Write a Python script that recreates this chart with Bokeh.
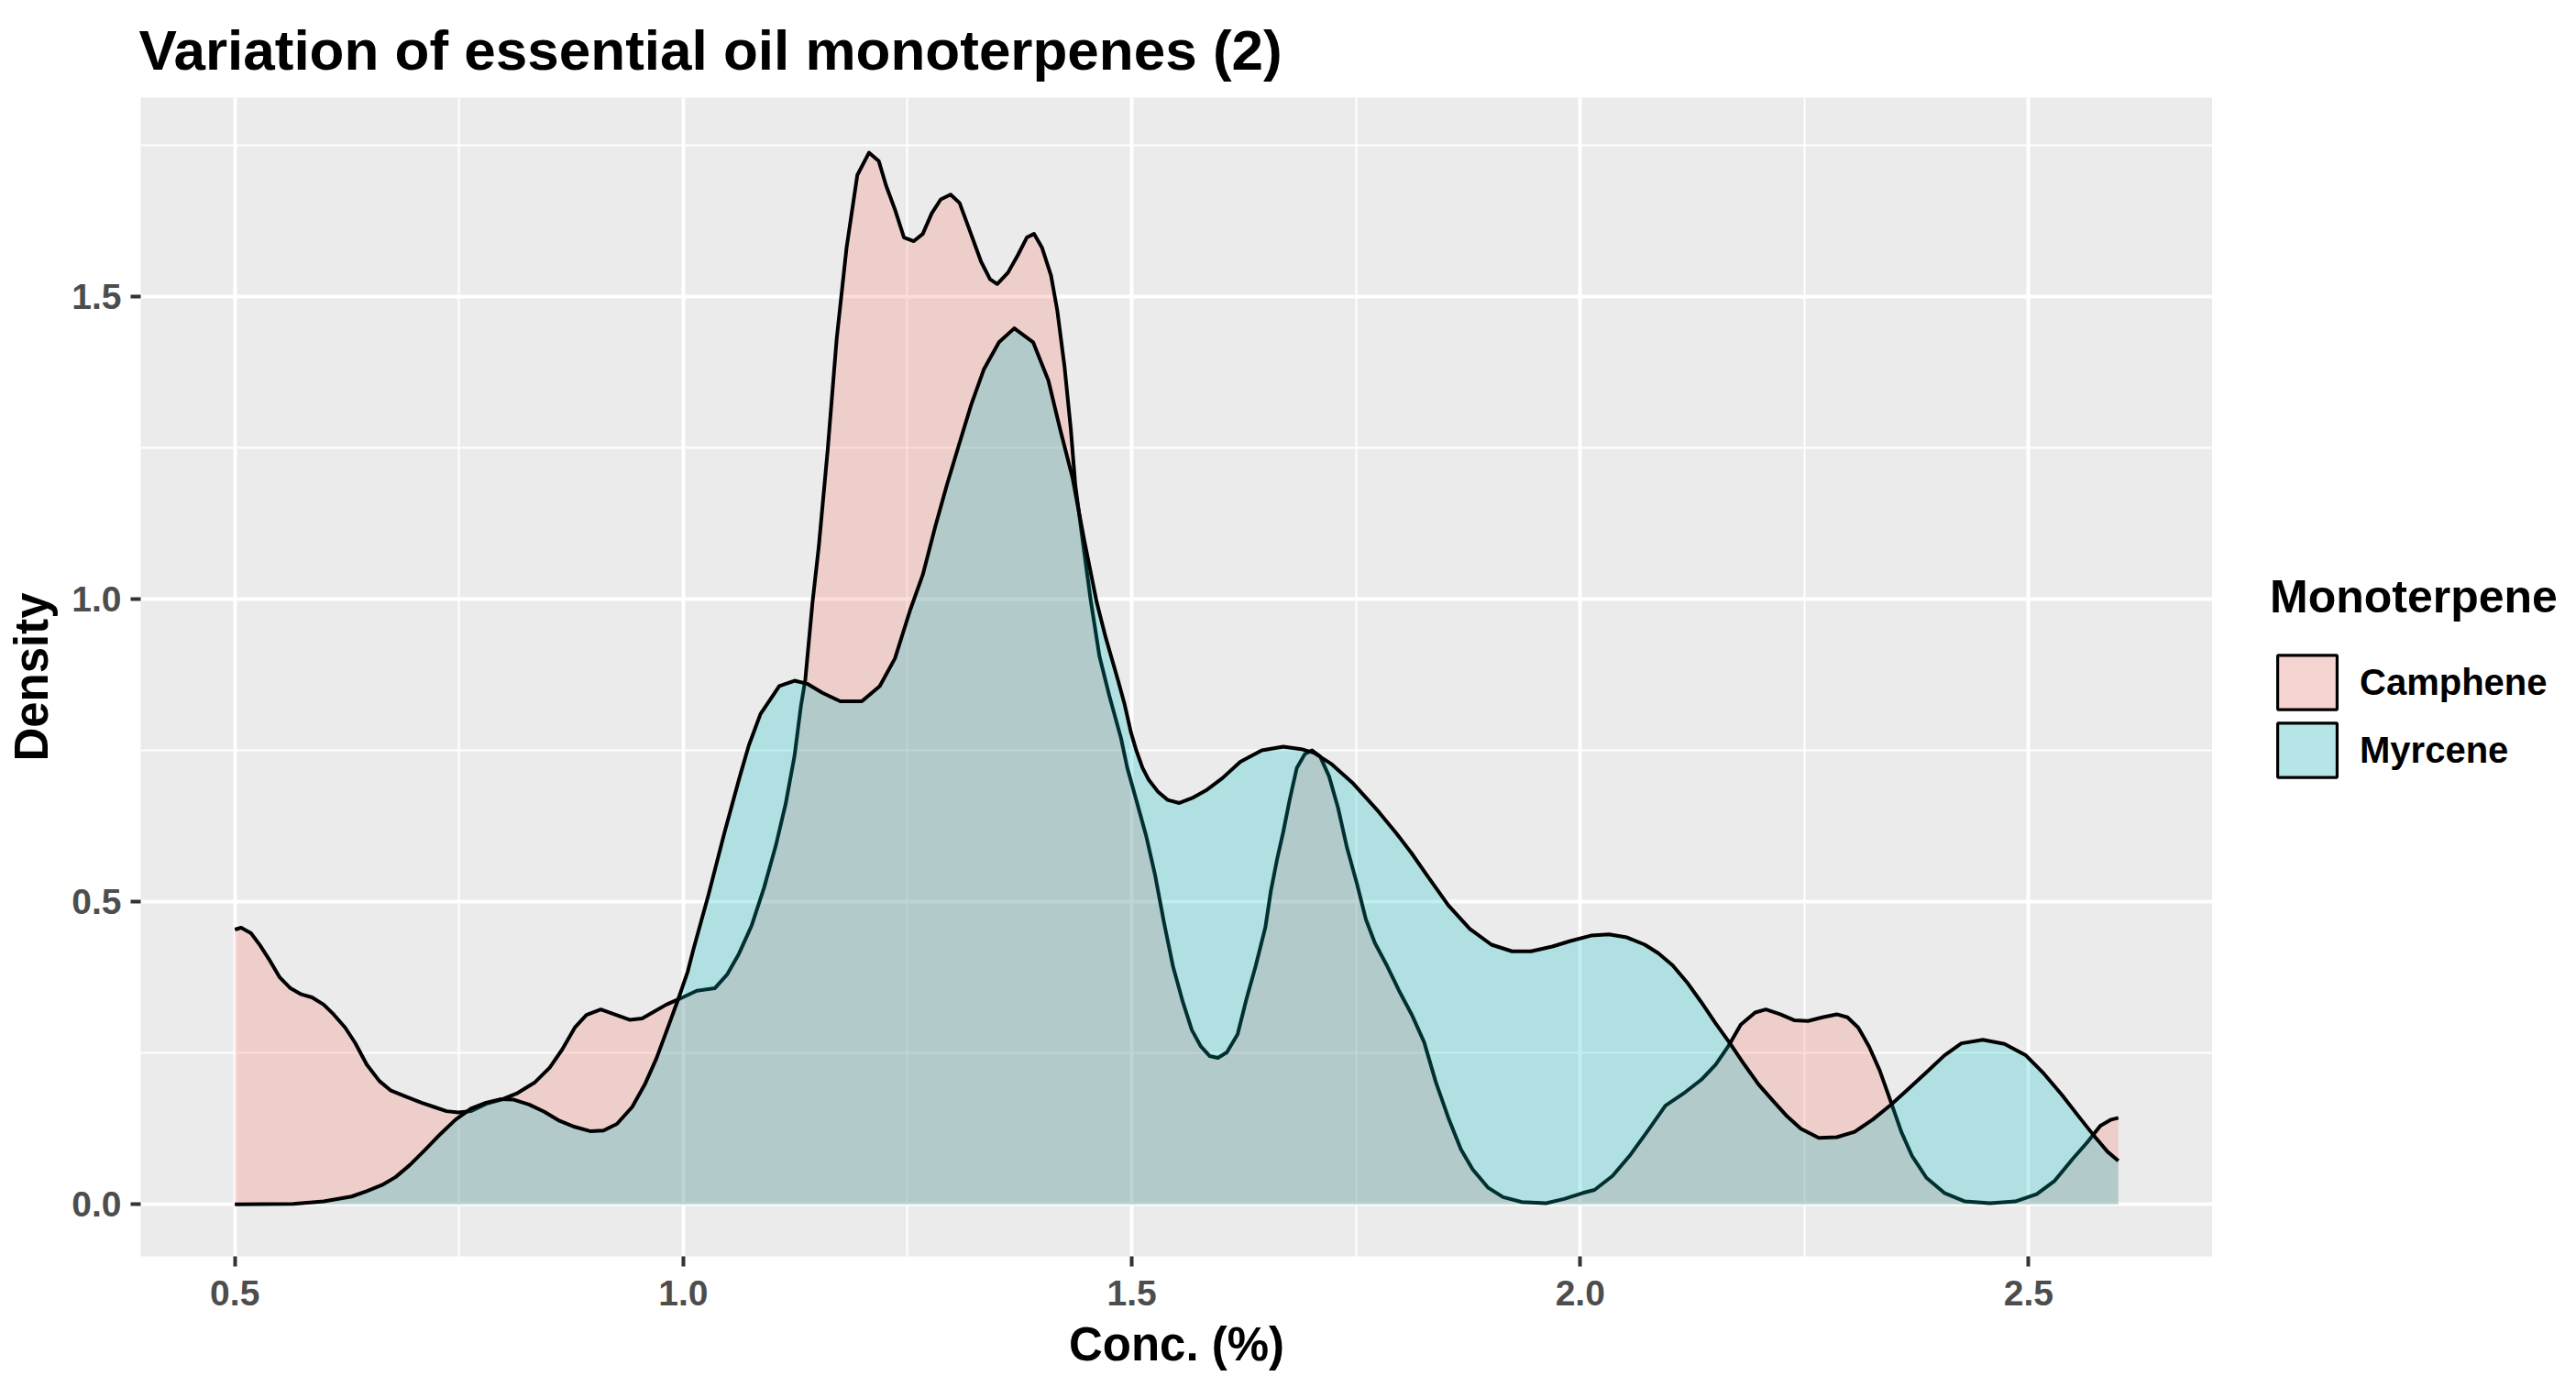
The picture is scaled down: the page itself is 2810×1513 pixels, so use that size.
from bokeh.plotting import figure
from bokeh.layouts import row
from bokeh.models import Range1d, FixedTicker, NumeralTickFormatter, Legend, LegendItem
from bokeh.embed import file_html
from bokeh.resources import INLINE

title_text = "Variation of essential oil monoterpenes (2)"
x_label = "Conc. (%)"
y_label = "Density"
legend_title = "Monoterpene"
series_names = ["Camphene", "Myrcene"]

x_ticks = [0.5, 1.0, 1.5, 2.0, 2.5]
x_minor = [0.75, 1.25, 1.75, 2.25]
y_ticks = [0.0, 0.5, 1.0, 1.5]
y_minor = [0.25, 0.75, 1.25, 1.75]

camphene_x = [
    0.500, 0.507, 0.518, 0.528, 0.538, 0.550, 0.562, 0.574, 0.586, 0.599,
    0.610, 0.623, 0.634, 0.647, 0.661, 0.674, 0.691, 0.708, 0.722, 0.736,
    0.749, 0.763, 0.780, 0.797, 0.814, 0.834, 0.851, 0.865, 0.879, 0.892,
    0.908, 0.923, 0.940, 0.954, 0.967, 0.981, 0.995, 1.015, 1.035, 1.049,
    1.062, 1.076, 1.090, 1.103, 1.114, 1.124, 1.131, 1.136, 1.144, 1.151,
    1.161, 1.171, 1.182, 1.194, 1.207, 1.218, 1.226, 1.236, 1.246, 1.257,
    1.267, 1.277, 1.287, 1.298, 1.308, 1.318, 1.332, 1.342, 1.350, 1.362,
    1.373, 1.383, 1.391, 1.400, 1.410, 1.417, 1.425, 1.432, 1.437, 1.444,
    1.454, 1.464, 1.475, 1.488, 1.495, 1.505, 1.516, 1.526, 1.536, 1.546,
    1.557, 1.567, 1.577, 1.587, 1.596, 1.606, 1.618, 1.628, 1.638, 1.649,
    1.655, 1.662, 1.669, 1.676, 1.684, 1.693, 1.701, 1.710, 1.720, 1.730,
    1.740, 1.751, 1.761, 1.771, 1.785, 1.798, 1.812, 1.826, 1.839, 1.853,
    1.867, 1.880, 1.897, 1.914, 1.935, 1.962, 1.982, 2.003, 2.016, 2.036,
    2.056, 2.076, 2.095, 2.115, 2.135, 2.151, 2.165, 2.179, 2.195, 2.207,
    2.223, 2.239, 2.254, 2.270, 2.286, 2.298, 2.310, 2.322, 2.334, 2.346,
    2.358, 2.370, 2.386, 2.406, 2.429, 2.457, 2.485, 2.509, 2.529, 2.549,
    2.565, 2.580, 2.592, 2.600,
]
camphene_density = [
    0.454, 0.457, 0.448, 0.428, 0.405, 0.375, 0.357, 0.347, 0.342, 0.330,
    0.314, 0.292, 0.267, 0.231, 0.204, 0.188, 0.178, 0.168, 0.161, 0.154,
    0.152, 0.154, 0.166, 0.173, 0.183, 0.201, 0.226, 0.256, 0.292, 0.313,
    0.322, 0.314, 0.305, 0.307, 0.318, 0.330, 0.339, 0.353, 0.357, 0.380,
    0.414, 0.460, 0.523, 0.592, 0.661, 0.741, 0.822, 0.867, 0.994, 1.086,
    1.247, 1.430, 1.580, 1.700, 1.737, 1.723, 1.683, 1.643, 1.597, 1.591,
    1.603, 1.637, 1.660, 1.668, 1.654, 1.614, 1.557, 1.528, 1.520, 1.539,
    1.568, 1.597, 1.603, 1.580, 1.534, 1.476, 1.384, 1.281, 1.189, 1.110,
    1.000, 0.905, 0.840, 0.770, 0.721, 0.668, 0.609, 0.544, 0.465, 0.393,
    0.334, 0.288, 0.261, 0.245, 0.242, 0.251, 0.281, 0.340, 0.393, 0.458,
    0.517, 0.570, 0.616, 0.668, 0.721, 0.744, 0.750, 0.740, 0.707, 0.655,
    0.589, 0.530, 0.471, 0.432, 0.393, 0.353, 0.314, 0.268, 0.202, 0.143,
    0.091, 0.058, 0.028, 0.012, 0.004, 0.002, 0.009, 0.019, 0.024, 0.047,
    0.082, 0.123, 0.163, 0.183, 0.206, 0.231, 0.261, 0.297, 0.317, 0.322,
    0.314, 0.304, 0.303, 0.309, 0.314, 0.309, 0.292, 0.261, 0.221, 0.171,
    0.120, 0.080, 0.044, 0.019, 0.005, 0.002, 0.005, 0.017, 0.039, 0.075,
    0.102, 0.130, 0.140, 0.143,
]

myrcene_x = [
    0.500, 0.565, 0.599, 0.630, 0.647, 0.664, 0.679, 0.695, 0.712, 0.729,
    0.746, 0.763, 0.780, 0.797, 0.811, 0.828, 0.845, 0.862, 0.879, 0.896,
    0.911, 0.926, 0.943, 0.957, 0.970, 0.984, 0.995, 1.005, 1.011, 1.028,
    1.046, 1.063, 1.073, 1.086, 1.107, 1.124, 1.138, 1.155, 1.175, 1.199,
    1.219, 1.236, 1.253, 1.267, 1.281, 1.294, 1.308, 1.321, 1.335, 1.352,
    1.369, 1.390, 1.407, 1.420, 1.434, 1.447, 1.461, 1.471, 1.485, 1.492,
    1.499, 1.505, 1.512, 1.519, 1.529, 1.540, 1.553, 1.567, 1.584, 1.601,
    1.621, 1.645, 1.669, 1.689, 1.703, 1.723, 1.747, 1.775, 1.795, 1.812,
    1.829, 1.853, 1.877, 1.901, 1.924, 1.945, 1.969, 1.989, 2.012, 2.032,
    2.052, 2.072, 2.087, 2.103, 2.119, 2.135, 2.151, 2.167, 2.183, 2.199,
    2.215, 2.231, 2.246, 2.266, 2.286, 2.306, 2.326, 2.346, 2.366, 2.386,
    2.406, 2.425, 2.449, 2.473, 2.497, 2.517, 2.537, 2.557, 2.572, 2.588,
    2.600,
]
myrcene_density = [
    0.000, 0.001, 0.005, 0.013, 0.022, 0.032, 0.045, 0.065, 0.090, 0.116,
    0.140, 0.158, 0.168, 0.174, 0.173, 0.165, 0.153, 0.138, 0.128, 0.121,
    0.122, 0.133, 0.161, 0.198, 0.241, 0.297, 0.342, 0.385, 0.420, 0.511,
    0.615, 0.707, 0.758, 0.810, 0.856, 0.865, 0.860, 0.845, 0.831, 0.831,
    0.856, 0.902, 0.982, 1.040, 1.120, 1.189, 1.258, 1.321, 1.379, 1.424,
    1.447, 1.424, 1.361, 1.281, 1.200, 1.097, 0.994, 0.936, 0.864, 0.826,
    0.780, 0.750, 0.721, 0.701, 0.682, 0.668, 0.663, 0.671, 0.685, 0.704,
    0.731, 0.750, 0.756, 0.752, 0.746, 0.727, 0.695, 0.649, 0.613, 0.580,
    0.544, 0.494, 0.455, 0.429, 0.418, 0.418, 0.426, 0.435, 0.444, 0.446,
    0.441, 0.429, 0.415, 0.395, 0.367, 0.334, 0.299, 0.266, 0.231, 0.198,
    0.171, 0.145, 0.125, 0.110, 0.111, 0.120, 0.140, 0.164, 0.191, 0.218,
    0.246, 0.266, 0.272, 0.265, 0.246, 0.216, 0.181, 0.143, 0.115, 0.087,
    0.072,
]

assert len(camphene_x) == len(camphene_density)
assert len(myrcene_x) == len(myrcene_density)

FONT = "Liberation Sans"
GRID_MAJOR = 4
fill_colors = ["#F8766D", "#00BFC4"]
key_colors = ["#F4D3D1", "#B6E5E7"]

# ---------------- main plot ----------------
p = figure(
    width=2413, height=1513,
    output_backend="svg", toolbar_location=None,
    x_range=Range1d(0.395, 2.705), y_range=Range1d(-0.0858, 1.828),
    min_border_left=153, min_border_right=0,
    min_border_top=105, min_border_bottom=143,
)

p.background_fill_color = "#EBEBEB"
p.border_fill_color = "white"
p.outline_line_color = None

p.title.text = title_text
p.title.text_font = FONT
p.title.text_font_size = "62px"
p.title.text_font_style = "bold"
p.title.text_color = "black"
p.title.align = "left"
p.title.standoff = 35
p.title.offset = -2

for g in (p.xgrid, p.ygrid):
    g.grid_line_color = "white"
    g.grid_line_width = GRID_MAJOR
    g.minor_grid_line_color = "white"
    g.minor_grid_line_width = GRID_MAJOR / 2

p.xaxis.ticker = FixedTicker(ticks=x_ticks, minor_ticks=x_minor)
p.yaxis.ticker = FixedTicker(ticks=y_ticks, minor_ticks=y_minor)
p.xaxis.formatter = NumeralTickFormatter(format="0.0")
p.yaxis.formatter = NumeralTickFormatter(format="0.0")

for ax in (p.xaxis, p.yaxis):
    ax.axis_line_color = None
    ax.minor_tick_line_color = None
    ax.major_tick_in = 0
    ax.major_tick_out = 11
    ax.major_tick_line_color = "#333333"
    ax.major_tick_line_width = GRID_MAJOR
    ax.major_label_text_font = FONT
    ax.major_label_text_font_size = "39px"
    ax.major_label_text_font_style = "bold"
    ax.major_label_text_color = "#4D4D4D"
    ax.axis_label_text_font = FONT
    ax.axis_label_text_font_size = "51px"
    ax.axis_label_text_font_style = "bold"
    ax.axis_label_text_color = "black"

p.xaxis.axis_label = x_label
p.yaxis.axis_label = y_label
p.xaxis.major_label_standoff = 15
p.yaxis.major_label_standoff = 10
p.xaxis.axis_label_standoff = 11
p.yaxis.axis_label_standoff = 12

series = [(camphene_x, camphene_density), (myrcene_x, myrcene_density)]
for (xs, ys), fc in zip(series, fill_colors):
    p.varea(x=xs, y1=[0.0] * len(xs), y2=ys, fill_color=fc, fill_alpha=0.25)
    p.line(x=xs, y=ys, line_color="black", line_width=4, line_join="round")

# ---------------- legend panel (frame aligned with main frame) ----------------
lg = figure(
    width=397, height=1513,
    output_backend="svg", toolbar_location=None,
    x_range=Range1d(0, 1), y_range=Range1d(0, 1),
    x_axis_type=None, y_axis_type=None,
    min_border=0,
)
lg.outline_line_color = None
lg.background_fill_color = "white"
lg.border_fill_color = "white"
lg.xgrid.visible = False
lg.ygrid.visible = False

key_renderers = []
for kc in key_colors:
    kr = lg.rect(x=[float("nan")], y=[float("nan")], width=0.1, height=0.1,
                 fill_color=kc, line_color="black", line_width=3.2)
    key_renderers.append(kr)

legend = Legend(
    items=[LegendItem(label=n, renderers=[r]) for n, r in zip(series_names, key_renderers)],
    location=(63, 515),
    title=legend_title,
    title_text_font=FONT, title_text_font_size="50px", title_text_font_style="bold",
    title_text_color="black", title_standoff=27,
    label_text_font=FONT, label_text_font_size="40px", label_text_font_style="bold",
    label_text_color="black",
    glyph_width=81, glyph_height=74, label_height=74, label_standoff=17,
    spacing=0, padding=0, margin=0,
    border_line_color=None, background_fill_alpha=0,
)
lg.add_layout(legend, "center")

layout = row(p, lg, spacing=0)
open("out.html", "w").write(file_html(layout, INLINE))
